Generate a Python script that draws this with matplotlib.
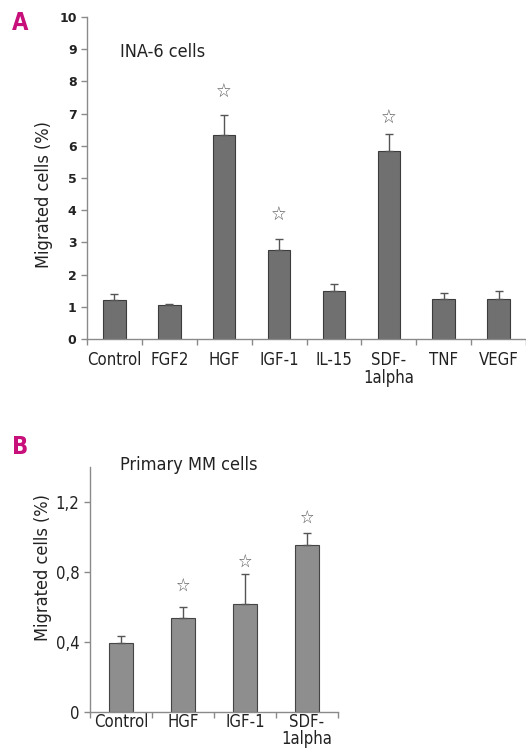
import numpy as np
import matplotlib
matplotlib.use('Agg')
import matplotlib.pyplot as plt

plt.rcParams['font.family'] = ['DejaVu Sans']
plt.rcParams['font.stretch'] = 'condensed'

# panel A: INA-6 cells
cats_a = ['Control', 'FGF2', 'HGF', 'IGF-1', 'IL-15', 'SDF-\n1alpha', 'TNF', 'VEGF']
vals_a = [1.2, 1.07, 6.35, 2.75, 1.5, 5.85, 1.25, 1.25]
err_a = [0.2, 0.02, 0.6, 0.37, 0.2, 0.52, 0.18, 0.25]
star_a = [None, None, 7.65, 3.85, None, 6.85, None, None]

# panel B: primary MM cells
cats_b = ['Control', 'HGF', 'IGF-1', 'SDF-\n1alpha']
vals_b = [0.395, 0.535, 0.62, 0.955]
err_b = [0.037, 0.065, 0.17, 0.065]
star_b = [None, 0.72, 0.86, 1.11]

axis_col = '#8a8a8a'
mag = '#c8107a'

fig = plt.figure(figsize=(5.26, 7.48), dpi=100)

def style(ax):
    for s in ['top', 'right']:
        ax.spines[s].set_visible(False)
    for s in ['left', 'bottom']:
        ax.spines[s].set_color(axis_col)
        ax.spines[s].set_linewidth(1.0)
    ax.tick_params(axis='both', colors=axis_col, length=4, width=1.0)
    ax.tick_params(axis='y', labelcolor='#222222')

# ---- A
ax1 = fig.add_axes([0.1654, 0.5468, 0.8346, 0.4305])
x = np.arange(len(cats_a))
ax1.bar(x, vals_a, width=0.41, color='#707070', edgecolor='#3c3c3c', linewidth=0.8, zorder=2)
ax1.errorbar(x, vals_a, yerr=[np.zeros(len(err_a)), err_a], fmt='none', ecolor='#555555',
             elinewidth=1.0, capsize=3, capthick=1.0, zorder=3)
for i, s in enumerate(star_a):
    if s is not None:
        ax1.text(i, s, '\u2606', family='DejaVu Sans', ha='center', va='center', fontsize=14, color='#555555')
ax1.set_xlim(-0.5, 7.34)
ax1.set_ylim(0, 10)
ax1.set_yticks(range(0, 11))
ax1.set_yticklabels([str(v) for v in range(0, 11)], fontweight='bold', fontsize=9, stretch='normal')
ax1.set_xticks(np.arange(len(cats_a) + 1) - 0.5)
ax1.set_xticklabels([])
ax1.set_xticks(x, minor=True)
ax1.set_xticklabels(cats_a, minor=True, fontsize=12, color='#222222', va='top', linespacing=1.0)
style(ax1)
ax1.tick_params(axis='x', which='minor', length=0, pad=9, labelcolor='#222222')
ax1.set_ylabel('Migrated cells (%)', fontsize=13, color='#222222')
ax1.yaxis.set_label_coords(-0.077, 0.45)
fig.text(120 / 526, 1 - 52 / 748, 'INA-6 cells', fontsize=13, color='#222222', va='center')
fig.text(12 / 526, 1 - 23 / 748, 'A', fontsize=17, fontweight='bold', color=mag, va='center')

# ---- B
ax2 = fig.add_axes([0.171, 0.0481, 0.4716, 0.3276])
xb = np.arange(len(cats_b))
ax2.bar(xb, vals_b, width=0.4, color='#8e8e8e', edgecolor='#444444', linewidth=0.8, zorder=2)
ax2.errorbar(xb, vals_b, yerr=[np.zeros(len(err_b)), err_b], fmt='none', ecolor='#555555',
             elinewidth=1.0, capsize=3, capthick=1.0, zorder=3)
for i, s in enumerate(star_b):
    if s is not None:
        ax2.text(i, s, '\u2606', family='DejaVu Sans', ha='center', va='center', fontsize=13, color='#555555')
ax2.set_xlim(-0.5, 3.5)
ax2.set_ylim(0, 1.4)
ax2.set_yticks([0, 0.4, 0.8, 1.2])
ax2.set_yticklabels(['0', '0,4', '0,8', '1,2'], fontsize=12)
ax2.set_xticks(np.arange(len(cats_b) + 1) - 0.5)
ax2.set_xticklabels([])
ax2.set_xticks(xb, minor=True)
ax2.set_xticklabels(cats_b, minor=True, fontsize=12, va='top', linespacing=0.9)
style(ax2)
ax2.tick_params(axis='x', which='minor', length=0, pad=1, labelcolor='#222222')
ax2.set_ylabel('Migrated cells (%)', fontsize=13, color='#222222')
ax2.yaxis.set_label_coords(-0.153, 0.588)
fig.text(120 / 526, 1 - 465 / 748, 'Primary MM cells', fontsize=13, color='#222222', va='center')
fig.text(12 / 526, 1 - 447 / 748, 'B', fontsize=17, fontweight='bold', color=mag, va='center')

fig.savefig('out.png', dpi=100)
